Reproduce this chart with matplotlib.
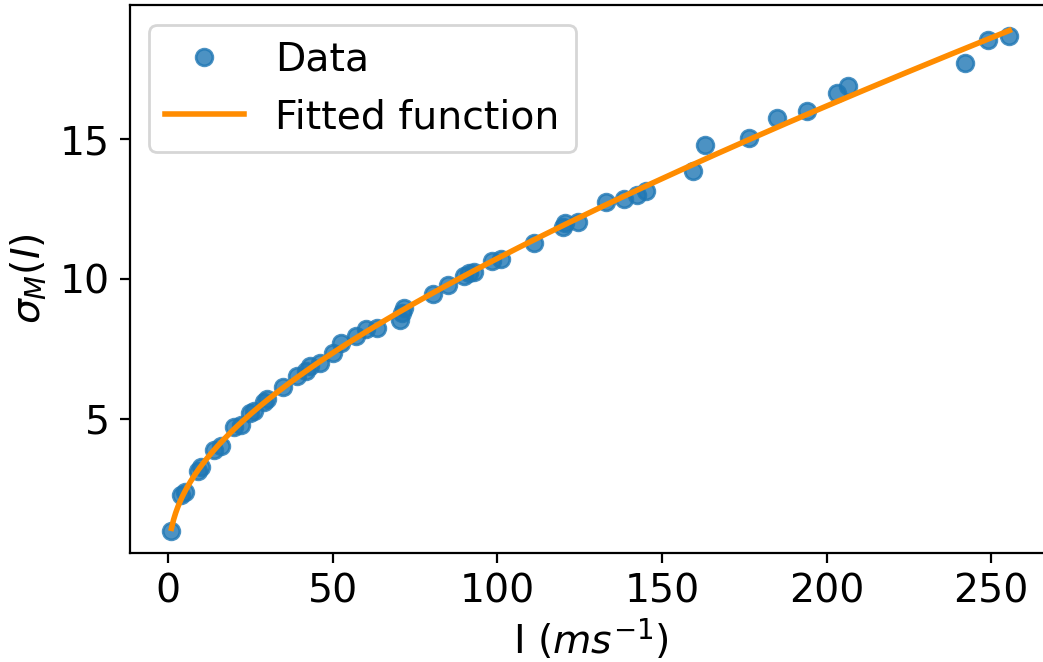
import numpy as np
import matplotlib
matplotlib.use("Agg")
import matplotlib.pyplot as plt

# Data
intensity = [1, 4, 5, 9, 10, 14, 16, 20, 22, 25, 26, 29, 30, 35, 39, 42, 43, 46,
             50, 52.5, 57, 60, 63.5, 70.5, 71, 71.5, 80.5, 85, 90, 91.5, 93,
             98.5, 101, 111, 120, 120.5, 124.5, 133, 138.5, 142.5, 145, 159.5,
             163, 176.5, 185, 194, 203, 206.5, 242, 249, 255.5]
sigma = [1.0, 2.3, 2.4, 3.15, 3.3, 3.9, 4.05, 4.7, 4.8, 5.2, 5.3, 5.6, 5.7, 6.15,
         6.55, 6.7, 6.9, 7.0, 7.35, 7.7, 7.95, 8.2, 8.25, 8.55, 8.8, 8.95, 9.45,
         9.8, 10.1, 10.2, 10.25, 10.65, 10.7, 11.3, 11.85, 12.0, 12.05, 12.75,
         12.85, 13.0, 13.15, 13.85, 14.8, 15.05, 15.75, 16.0, 16.65, 16.9, 17.7,
         18.55, 18.7]

xticks = [0, 50, 100, 150, 200, 250]
yticks = [5, 10, 15]

x = np.array(intensity, dtype=float)
y = np.array(sigma, dtype=float)

# Fit y = a*x^b + c*x + d to the data (least squares, grid over b)
best = None
for b in np.linspace(0.2, 0.9, 141):
    A = np.column_stack([x ** b, x, np.ones_like(x)])
    coef, res, *_ = np.linalg.lstsq(A, y, rcond=None)
    r = np.sum((A @ coef - y) ** 2)
    if best is None or r < best[0]:
        best = (r, b, coef)
_, bb, cc = best
xf = np.linspace(x.min(), x.max(), 400)
yf = cc[0] * xf ** bb + cc[1] * xf + cc[2]

plt.rcParams['font.family'] = ['DejaVu Sans']
plt.rcParams['font.size'] = 14.2

fig = plt.figure(figsize=(1043 / 200, 662 / 200), dpi=200)
ax = fig.add_axes([129.5 / 1043, 109 / 662, (1053 - 129.5) / 1043, 548 / 662])

ax.plot(x, y, 'o', color='C0', alpha=0.8, label='Data')
ax.plot(xf, yf, color='darkorange', lw=2, label='Fitted function')

ax.set_xlim(-11.75, 268.75)
ax.set_ylim(0.21, 19.79)
ax.set_xticks(xticks)
ax.set_yticks(yticks)
ax.set_xlabel(r'I $(ms^{-1})$', labelpad=2.5)
ax.set_ylabel(r'$\sigma_M(I)$')
ax.legend(loc='upper left')

fig.savefig('out.png', dpi=200)
